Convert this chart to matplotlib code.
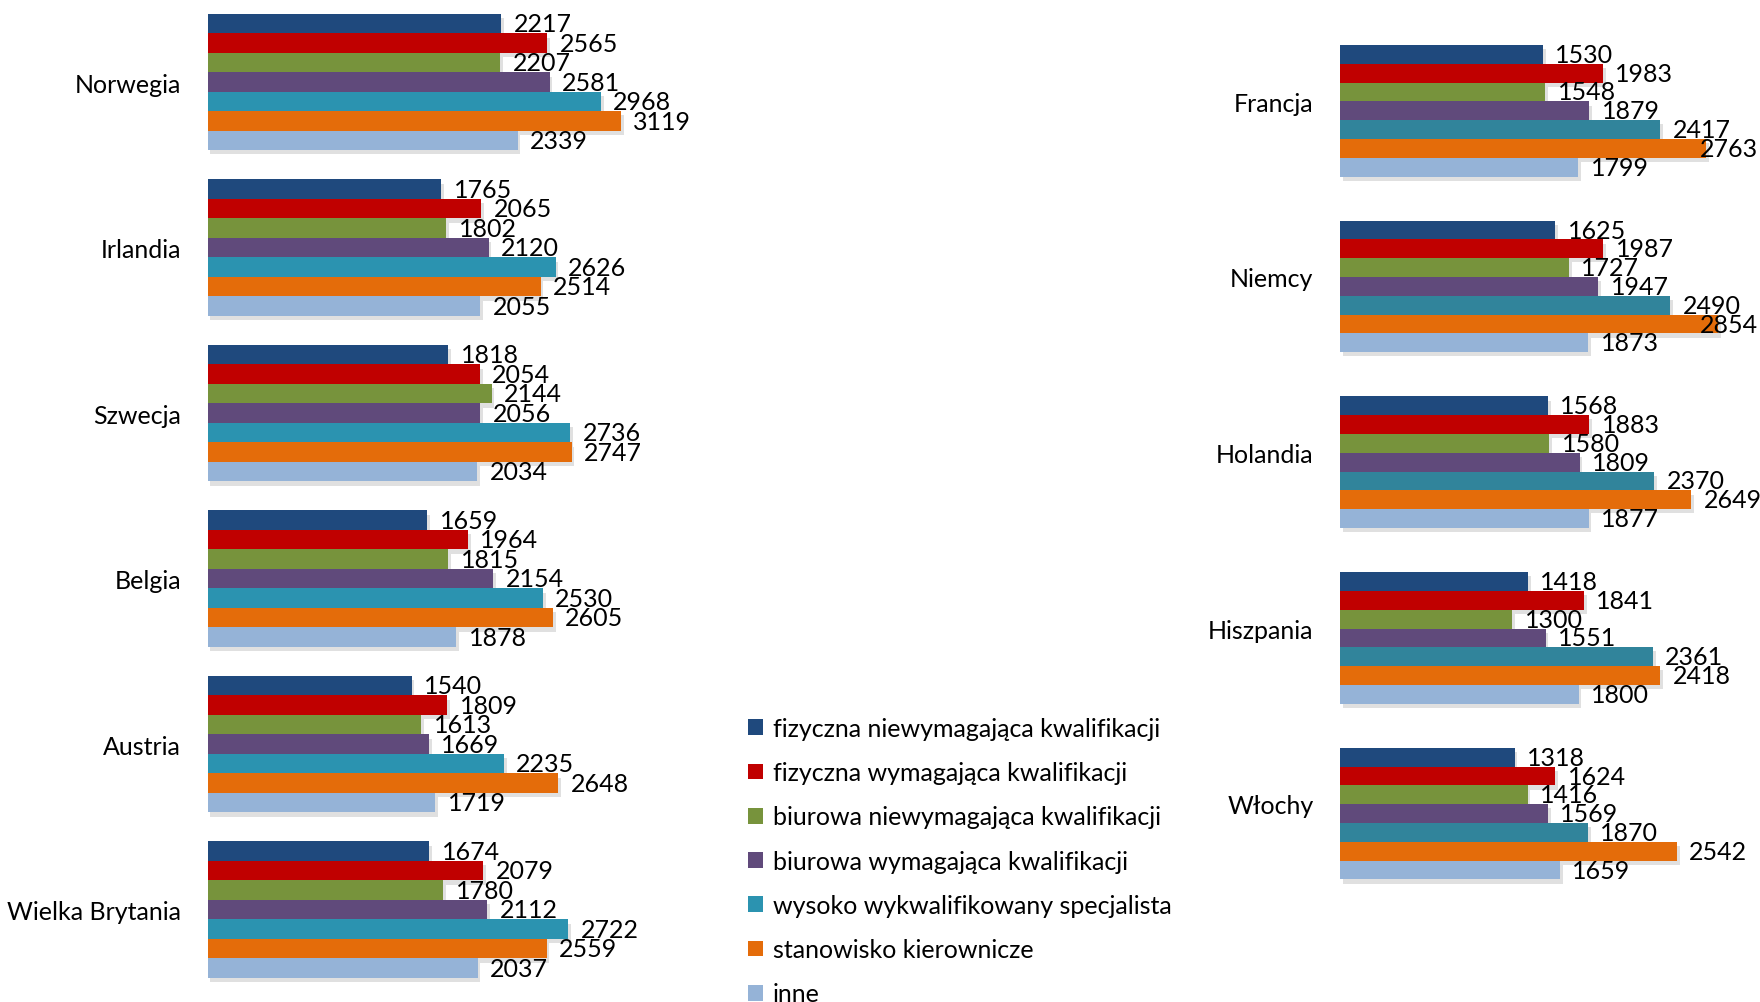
import matplotlib
matplotlib.use('Agg')
import numpy as np
import matplotlib.pyplot as plt
import matplotlib.patheffects as pe
from matplotlib.patches import Patch

plt.rcParams['font.family'] = ['Lato', 'DejaVu Sans']

# kategorie stanowisk (seria)
series = ['fizyczna niewymagająca kwalifikacji', 'fizyczna wymagająca kwalifikacji',
          'biurowa niewymagająca kwalifikacji', 'biurowa wymagająca kwalifikacji',
          'wysoko wykwalifikowany specjalista', 'stanowisko kierownicze', 'inne']
colors = ['#1F497D', '#C00000', '#77933C', '#604A7B', '#2B93B0', '#E46C0A', '#95B3D7']
colors_right = ['#1F497D', '#C00000', '#77933C', '#604A7B', '#31849B', '#E46C0A', '#95B3D7']

# lewy panel
countries_left = ['Norwegia', 'Irlandia', 'Szwecja', 'Belgia', 'Austria', 'Wielka Brytania']
norwegia = [2217, 2565, 2207, 2581, 2968, 3119, 2339]
irlandia = [1765, 2065, 1802, 2120, 2626, 2514, 2055]
szwecja = [1818, 2054, 2144, 2056, 2736, 2747, 2034]
belgia = [1659, 1964, 1815, 2154, 2530, 2605, 1878]
austria = [1540, 1809, 1613, 1669, 2235, 2648, 1719]
wielka_brytania = [1674, 2079, 1780, 2112, 2722, 2559, 2037]

# prawy panel
countries_right = ['Francja', 'Niemcy', 'Holandia', 'Hiszpania', 'Włochy']
francja = [1530, 1983, 1548, 1879, 2417, 2763, 1799]
niemcy = [1625, 1987, 1727, 1947, 2490, 2854, 1873]
holandia = [1568, 1883, 1580, 1809, 2370, 2649, 1877]
hiszpania = [1418, 1841, 1300, 1551, 2361, 2418, 1800]
wlochy = [1318, 1624, 1416, 1569, 1870, 2542, 1659]

left_vals = np.array([norwegia, irlandia, szwecja, belgia, austria, wielka_brytania])
right_vals = np.array([francja, niemcy, holandia, hiszpania, wlochy])

FS = 18
W, H = 1760, 1003
fig = plt.figure(figsize=(W / 100, H / 100), dpi=100)

shadow = [pe.SimplePatchShadow(offset=(2, -3), shadow_rgbFace='#999999', alpha=0.3), pe.Normal()]


def draw_panel(ax, vals, countries, cols, h, xmax, label_dy):
    n = len(countries)
    for j in range(len(series)):
        y = np.arange(n) + (j - 3) * h
        bars = ax.barh(y, vals[:, j], height=h, color=cols[j], linewidth=0)
        for b in bars:
            b.set_path_effects(shadow)
        for yy, v in zip(y, vals[:, j]):
            # etykieta przy końcu słupka, przesunięta gdy wychodzi poza rysunek
            if v + 500 > xmax:
                ax.annotate(str(v), (xmax, yy), xytext=(-1, 0), textcoords='offset points',
                            ha='right', va='center', fontsize=FS)
            else:
                ax.annotate(str(v), (v, yy), xytext=(9, 0), textcoords='offset points',
                            ha='left', va='center', fontsize=FS)
    ax.set_xlim(0, xmax)
    ax.set_yticks(np.arange(n) - label_dy)
    ax.set_yticklabels(countries, fontsize=FS)
    ax.tick_params(axis='y', length=0, pad=19)
    ax.set_xticks([])
    for s in ax.spines.values():
        s.set_visible(False)
    ax.patch.set_alpha(0)


# lewy: start słupków 207.6 px, 0.1325 px na jednostkę
axL = fig.add_axes([207.6 / W, 0, 3700 * 0.1325 / W, 1])
draw_panel(axL, left_vals, countries_left, colors, 0.1178, 3700, 0.0)
axL.set_ylim(5.558, -0.502)

axR = fig.add_axes([1340 / W, 0, 3165 * 0.1325 / W, 1])
draw_panel(axR, right_vals, countries_right, colors_right, 0.107, 3165, 0.055)
axR.set_ylim(5.072, -0.636)

handles = [Patch(facecolor=c, edgecolor='none') for c in colors]
fig.legend(handles, series, loc='upper left', bbox_to_anchor=(748 / W, 1 - 718 / H),
           frameon=False, fontsize=FS, handlelength=0.6, handleheight=0.6,
           handletextpad=0.4, labelspacing=0.85, borderpad=0, borderaxespad=0)

fig.savefig('out.png', dpi=100)
